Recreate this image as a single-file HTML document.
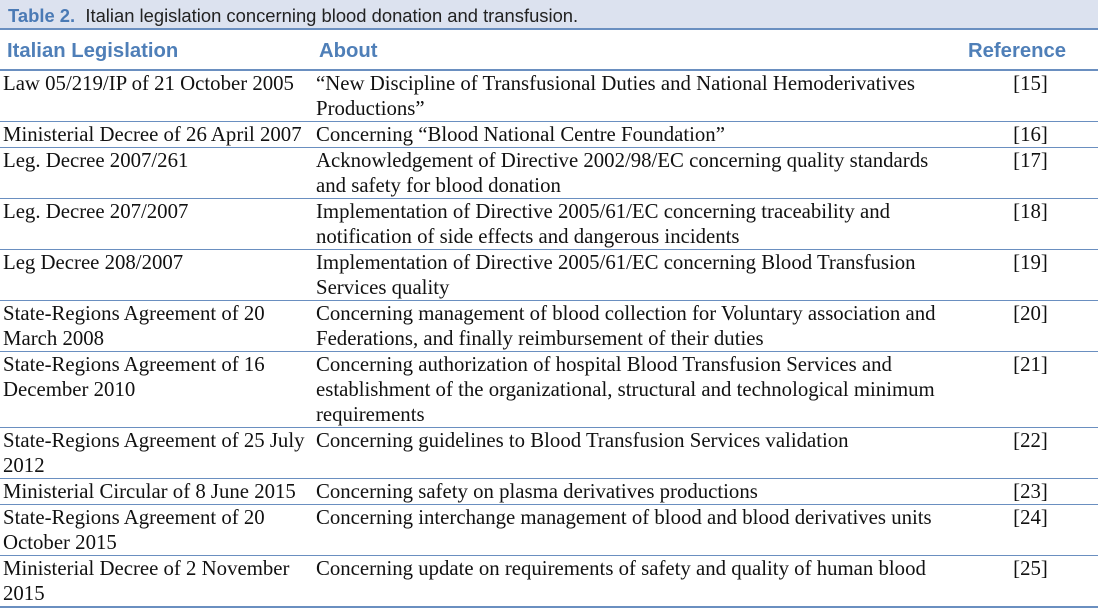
<!DOCTYPE html>
<html><head><meta charset="utf-8"><style>
html,body{margin:0;padding:0;background:#fff;width:1098px;height:609px;overflow:hidden}
.title{position:absolute;left:0;top:0;width:1098px;height:30px;background:#dce2ef;border-bottom:2px solid #6a8fc0;font-family:"Liberation Sans",sans-serif;font-size:18.4px;line-height:31px;color:#222;box-sizing:border-box;padding-left:8px}
.title b{color:#4a7ab5}
.hdr{position:absolute;top:32px;left:0;width:1098px;height:39px;border-bottom:2px solid #6a8fc0;box-sizing:border-box;font-family:"Liberation Sans",sans-serif;font-weight:bold;font-size:20.3px;color:#4f7fb8}
.hdr span{position:absolute;top:8px}
table{position:absolute;top:71px;left:0;width:1098px;border-collapse:collapse;table-layout:fixed;font-family:"Liberation Serif",serif;font-size:20.8px;color:#111}
td{vertical-align:top;padding:0;line-height:25px;border-bottom:1px solid #6a8fc0;white-space:nowrap}
tr:last-child td{border-bottom:2px solid #6a8fc0}
td.a{padding-left:3px}
td.c{text-align:center;padding-left:8px}
</style></head><body>
<div class="title"><b>Table 2.</b>&nbsp; Italian legislation concerning blood donation and transfusion.</div>
<div class="hdr"><span style="left:7px">Italian Legislation</span><span style="left:319px">About</span><span style="left:968px">Reference</span></div>
<table>
<colgroup><col style="width:316px"><col style="width:639px"><col style="width:143px"></colgroup>
<tr><td class="a">Law 05/219/IP of 21 October 2005</td><td>“New Discipline of Transfusional Duties and National Hemoderivatives<br>Productions”</td><td class="c">[15]</td></tr>
<tr><td class="a">Ministerial Decree of 26 April 2007</td><td>Concerning “Blood National Centre Foundation”</td><td class="c">[16]</td></tr>
<tr><td class="a">Leg. Decree 2007/261</td><td>Acknowledgement of Directive 2002/98/EC concerning quality standards<br>and safety for blood donation</td><td class="c">[17]</td></tr>
<tr><td class="a">Leg. Decree 207/2007</td><td>Implementation of Directive 2005/61/EC concerning traceability and<br>notification of side effects and dangerous incidents</td><td class="c">[18]</td></tr>
<tr><td class="a">Leg Decree 208/2007</td><td>Implementation of Directive 2005/61/EC concerning Blood Transfusion<br>Services quality</td><td class="c">[19]</td></tr>
<tr><td class="a">State-Regions Agreement of 20<br>March 2008</td><td>Concerning management of blood collection for Voluntary association and<br>Federations, and finally reimbursement of their duties</td><td class="c">[20]</td></tr>
<tr><td class="a">State-Regions Agreement of 16<br>December 2010</td><td>Concerning authorization of hospital Blood Transfusion Services and<br>establishment of the organizational, structural and technological minimum<br>requirements</td><td class="c">[21]</td></tr>
<tr><td class="a">State-Regions Agreement of 25 July<br>2012</td><td>Concerning guidelines to Blood Transfusion Services validation</td><td class="c">[22]</td></tr>
<tr><td class="a">Ministerial Circular of 8 June 2015</td><td>Concerning safety on plasma derivatives productions</td><td class="c">[23]</td></tr>
<tr><td class="a">State-Regions Agreement of 20<br>October 2015</td><td>Concerning interchange management of blood and blood derivatives units</td><td class="c">[24]</td></tr>
<tr><td class="a">Ministerial Decree of 2 November<br>2015</td><td>Concerning update on requirements of safety and quality of human blood</td><td class="c">[25]</td></tr>
</table>
</body></html>
